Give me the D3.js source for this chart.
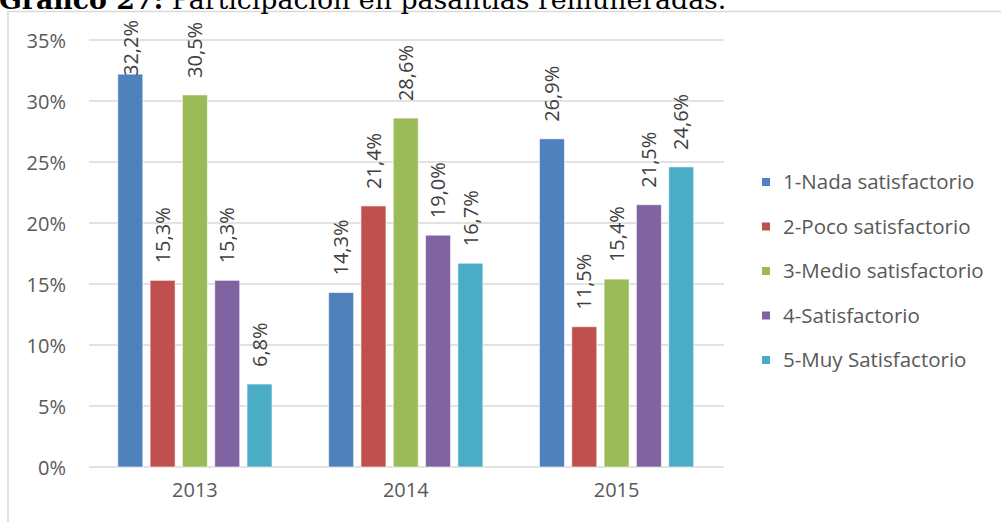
<!DOCTYPE html>
<html>
<head>
<meta charset="utf-8">
<script src="https://cdn.jsdelivr.net/npm/d3@7"></script>
<style>
  body { margin: 0; background: #fff; }
  svg { display: block; }
</style>
</head>
<body>
<svg id="chart" width="1001" height="522"></svg>
<script>
// Survey results by year, percentage of respondents per satisfaction level
const years = ["2013", "2014", "2015"];
const levels = [
  "1-Nada satisfactorio",
  "2-Poco satisfactorio",
  "3-Medio satisfactorio",
  "4-Satisfactorio",
  "5-Muy Satisfactorio"
];
const nadaSatisfactorio  = [32.2, 14.3, 26.9];
const pocoSatisfactorio  = [15.3, 21.4, 11.5];
const medioSatisfactorio = [30.5, 28.6, 15.4];
const satisfactorio      = [15.3, 19.0, 21.5];
const muySatisfactorio   = [6.8, 16.7, 24.6];
const yTicks = [0, 5, 10, 15, 20, 25, 30, 35];
const colors = ["#4f81bd", "#c0504d", "#9bbb59", "#8064a2", "#4bacc6"];

const seriesValues = [nadaSatisfactorio, pocoSatisfactorio, medioSatisfactorio, satisfactorio, muySatisfactorio];

const svg = d3.select("#chart");
const font = "'Open Sans', 'Noto Sans', sans-serif";
const fmt = v => v.toFixed(1).replace(".", ",") + "%";

// Chart frame
svg.append("rect")
  .attr("x", 8).attr("y", 11.5)
  .attr("width", 1010).attr("height", 530)
  .attr("fill", "#fff")
  .attr("stroke", "#d9d9d9")
  .attr("stroke-width", 1.5);

// Title, sized so it runs to x = 727
const title = svg.append("text")
  .attr("x", -1).attr("y", 9)
  .attr("font-family", "'DejaVu Serif', 'Liberation Serif', serif")
  .attr("font-size", 22)
  .attr("fill", "#000");
title.append("tspan").attr("font-weight", "bold").text("Gráfico 27:");
title.append("tspan").text(" Participación en pasantías remuneradas.");
const tw = title.node().getComputedTextLength();
title.attr("font-size", 22 * 728 / tw);

// Scales
const y = d3.scaleLinear().domain([0, 35]).range([467, 40]);
const x0 = d3.scaleBand().domain(years).range([89.5, 722]).padding(0);
const x1 = d3.scaleBand().domain(d3.range(levels.length))
  .range([0, x0.bandwidth()])
  .paddingInner(0.226)
  .paddingOuter(0.876);

// Gridlines
svg.append("g").selectAll("line")
  .data(yTicks)
  .join("line")
  .attr("x1", 89).attr("x2", 724)
  .attr("y1", d => y(d)).attr("y2", d => y(d))
  .attr("stroke", "#d9d9d9")
  .attr("stroke-width", 1.5);

// Y axis labels
const yAxis = d3.axisLeft(y).tickValues(yTicks).tickSize(0).tickPadding(0)
  .tickFormat(d => d + "%");
const yg = svg.append("g").attr("transform", "translate(66,0)").call(yAxis);
yg.select(".domain").remove();
yg.selectAll("text")
  .attr("font-family", font).attr("font-size", 20)
  .attr("fill", "#595959").attr("dy", "0.36em");

// X axis labels
const xAxis = d3.axisBottom(x0).tickSize(0).tickPadding(0);
const xg = svg.append("g").attr("transform", "translate(0,497)").call(xAxis);
xg.select(".domain").remove();
xg.selectAll("text")
  .attr("font-family", font).attr("font-size", 20)
  .attr("fill", "#595959").attr("dy", 0).attr("y", 0);

// Bars
const groups = svg.append("g").selectAll("g")
  .data(years)
  .join("g")
  .attr("transform", d => `translate(${x0(d)},0)`);

const cells = groups.selectAll("g.cell")
  .data((yr, i) => seriesValues.map((vals, s) => ({ s, v: vals[i] })))
  .join("g").attr("class", "cell");

cells.append("rect")
  .attr("x", d => x1(d.s))
  .attr("y", d => y(d.v))
  .attr("width", x1.bandwidth())
  .attr("height", d => y(0) - y(d.v))
  .attr("fill", d => colors[d.s])
  .attr("stroke", "rgba(255,255,255,0.6)")
  .attr("stroke-width", 1);

// Value labels, rotated, kept inside the chart area
cells.append("text")
  .attr("font-family", font).attr("font-size", 20)
  .attr("fill", "#404040")
  .attr("dy", "0.36em")
  .text(d => fmt(d.v))
  .each(function(d) {
    const len = this.getComputedTextLength();
    const cx = x1(d.s) + x1.bandwidth() / 2;
    const bottom = Math.max(y(d.v) - 17, 20 + len);
    d3.select(this).attr("transform", `translate(${cx},${bottom}) rotate(-90)`);
  });

// Legend
const legend = svg.append("g").selectAll("g")
  .data(levels)
  .join("g")
  .attr("transform", (d, i) => `translate(762,${182 + i * 44.5})`);
legend.append("rect")
  .attr("x", 0).attr("y", -4)
  .attr("width", 8).attr("height", 8)
  .attr("fill", (d, i) => colors[i]);
legend.append("text")
  .attr("x", 21).attr("dy", "0.36em")
  .attr("font-family", font).attr("font-size", 20.5)
  .attr("fill", "#595959")
  .text(d => d);
</script>
</body>
</html>
